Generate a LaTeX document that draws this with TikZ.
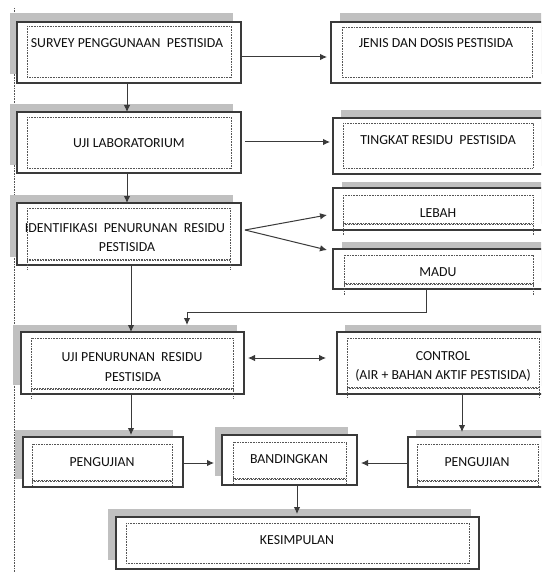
\documentclass[tikz,border=0pt]{standalone}
\usepackage{fontspec}
\setmainfont{Carlito}
\usetikzlibrary{arrows.meta}
\definecolor{shad}{HTML}{C0C0C0}
\definecolor{edge}{HTML}{3A3A3A}
\definecolor{dotc}{HTML}{555555}
\definecolor{txtc}{HTML}{101010}
\tikzset{
  boxnode/.style={draw=edge, line width=1.3pt, fill=white, inner sep=0pt, outer sep=0pt, rectangle},
  shadowbox/.style={fill=shad},
  innerdot/.style={draw=dotc, line width=0.6pt, dash pattern=on 0.8pt off 0.8pt},
  lbl/.style={text=txtc, font=\fontsize{13.8}{19}\selectfont, inner sep=0pt, align=center},
  arr/.style={draw=edge, line width=1pt, -{Latex[length=7pt,width=6.5pt]}},
  darr/.style={draw=edge, line width=1pt, {Latex[length=7pt,width=6.5pt]}-{Latex[length=7pt,width=6.5pt]}},
  plainline/.style={draw=edge, line width=1pt}
}
\newcommand{\dotin}[5]{% x1 y1 x2 y2 ext
  \draw[innerdot] (#1,#2) rectangle (#3,#4);
  \draw[innerdot] (#1,#4+1.6) -- (#3,#4+1.6);
  \draw[innerdot] (#1,#4) -- (#1,#5);
  \draw[innerdot] (#3,#4) -- (#3,#5);
}
\begin{document}
\begin{tikzpicture}[x=1pt,y=-1pt]
\useasboundingbox (0,0) rectangle (541,572);
\fill[white] (0,0) rectangle (541,572);
\begin{scope}
\clip (0,0) rectangle (541,572);
% dotted margin line
\draw[innerdot] (14,8) -- (14,572);

% shadows
\fill[shadowbox] (10,13) rectangle (233,74);
\fill[shadowbox] (10,104) rectangle (233,165);
\fill[shadowbox] (10,195) rectangle (233,257);
\fill[shadowbox] (340,13) rectangle (560,74);
\fill[shadowbox] (341,110) rectangle (560,166);
\fill[shadowbox] (342,182) rectangle (560,224);
\fill[shadowbox] (342,242) rectangle (560,282);
\fill[shadowbox] (13,325) rectangle (237,385);
\fill[shadowbox] (345,325) rectangle (560,386);
\fill[shadowbox] (14.5,430) rectangle (173,479);
\fill[shadowbox] (215,427) rectangle (348,476);
\fill[shadowbox] (416,430) rectangle (560,480);
\fill[shadowbox] (108,509) rectangle (471,560);

% boxes
\node[boxnode, minimum width=224pt, minimum height=61pt] (b1) at (129,52.5) {};
\node[boxnode, minimum width=224pt, minimum height=61pt] (b2) at (129,142.5) {};
\node[boxnode, minimum width=224pt, minimum height=62pt] (b3) at (129,234) {};
\node[boxnode, minimum width=214pt, minimum height=61pt] (jenis) at (438,52.5) {};
\node[boxnode, minimum width=212pt, minimum height=56pt] (ting) at (439,146) {};
\node[boxnode, minimum width=212pt, minimum height=42pt] (lebah) at (439,209) {};
\node[boxnode, minimum width=212pt, minimum height=40pt] (madu) at (439,269) {};
\node[boxnode, minimum width=223pt, minimum height=62pt] (b8) at (132.5,363) {};
\node[boxnode, minimum width=208pt, minimum height=62pt] (ctrl) at (441,363) {};
\node[boxnode, minimum width=160pt, minimum height=50pt] (pL) at (103,462) {};
\node[boxnode, minimum width=135pt, minimum height=50pt] (band) at (289.5,460) {};
\node[boxnode, minimum width=137pt, minimum height=50pt] (pR) at (476.5,462) {};
\node[boxnode, minimum width=363pt, minimum height=52pt] (kes) at (297.5,543) {};

% inner dotted frames
\draw[innerdot] (27,26) rectangle (231,77);
\draw[innerdot] (27,117) rectangle (231,168);
\dotin{27}{208}{230}{259}{269}
\draw[innerdot] (342,27) rectangle (532,77);
\draw[innerdot] (343,123) rectangle (533,168);
\dotin{343}{195}{533}{223}{235}
\dotin{344}{255}{533}{283}{295}
\dotin{31}{338}{233}{388}{398}
\dotin{347}{338}{539}{387}{397}
\dotin{32}{444}{172}{480}{486}
\dotin{233}{442}{346.5}{478}{484}
\dotin{417}{444}{538}{480}{486}
\draw[innerdot] (126,523) rectangle (469,563);

% labels
\node[lbl] (t1) at (127,43) {SURVEY PENGGUNAAN\ \ PESTISIDA};
\node[lbl] (t2) at (129,143) {UJI LABORATORIUM};
\node[lbl] (t3a) at (125,228) {IDENTIFIKASI\ \ PENURUNAN\ \ RESIDU};
\node[lbl] (t3b) at (127,247) {PESTISIDA};
\node[lbl] (t4) at (436,43) {JENIS DAN DOSIS PESTISIDA};
\node[lbl] (t5) at (438,140) {TINGKAT RESIDU\ \ PESTISIDA};
\node[lbl] (t6) at (438,213) {LEBAH};
\node[lbl] (t7) at (438,272) {MADU};
\node[lbl] (t8a) at (132,357) {UJI PENURUNAN\ \ RESIDU};
\node[lbl] (t8b) at (133,377) {PESTISIDA};
\node[lbl] (t9a) at (443,356) {CONTROL};
\node[lbl] (t9b) at (443,375) {(AIR + BAHAN AKTIF PESTISIDA)};
\node[lbl] (t10) at (102,462) {PENGUJIAN};
\node[lbl] (t11) at (289,459) {BANDINGKAN};
\node[lbl] (t12) at (477,462) {PENGUJIAN};
\node[lbl] (t13) at (297,540) {KESIMPULAN};

% connectors
\draw[arr] ([xshift=-2pt]b1.south) -- ([xshift=-2pt]b2.north);
\draw[arr] ([xshift=-2pt]b2.south) -- ([xshift=-2pt]b3.north);
\draw[arr] ([yshift=-4.5pt]b1.east) -- ([xshift=-4pt,yshift=-4.5pt]jenis.west);
\draw[arr] ([xshift=4pt,yshift=0.5pt]b2.east) -- ([xshift=-3pt,yshift=4pt]ting.west);
\draw[arr] ([xshift=4pt,yshift=4pt]b3.east) -- ([xshift=-6pt,yshift=-6pt]lebah.west);
\draw[arr] ([xshift=4pt,yshift=4pt]b3.east) -- ([xshift=-6pt,yshift=19pt]madu.west);
\draw[arr] ([xshift=2pt]b3.south) -- ([xshift=-1.5pt]b8.north);
\draw[arr] ([xshift=-13pt]madu.south) -- ++(0,23) -| ([xshift=54.5pt,yshift=7pt]b8.north);
\draw[darr] ([xshift=4pt,yshift=5pt]b8.east) -- ([xshift=-11pt,yshift=5pt]ctrl.west);
\draw[arr] ([xshift=-1.5pt]b8.south) -- ([xshift=28pt,yshift=2pt]pL.north);
\draw[arr] ([xshift=21pt]ctrl.south) -- ([xshift=-14.5pt,yshift=5pt]pR.north);
\draw[arr] ([yshift=-1pt]pL.east) -- ([xshift=-8pt,yshift=-3pt]band.west);
\draw[arr] ([yshift=-1pt]pR.west) -- ([xshift=4pt,yshift=-3pt]band.east);
\draw[arr] ([xshift=7.5pt]band.south) -- ([xshift=-0.5pt,yshift=3pt]kes.north);
\end{scope}
\end{tikzpicture}
\end{document}
